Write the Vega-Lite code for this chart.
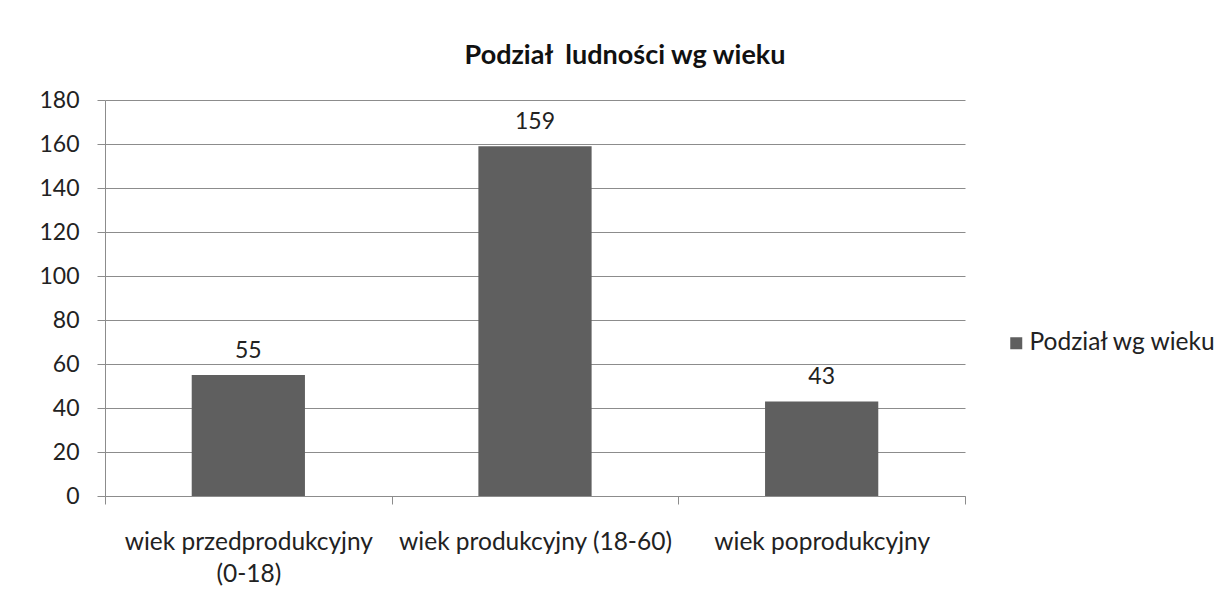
{
  "$schema": "https://vega.github.io/schema/vega-lite/v6.json",
  "width": 860,
  "height": 396,
  "autosize": {"type": "none"},
  "padding": {"left": 105, "top": 100, "right": 264, "bottom": 112},
  "background": "white",
  "title": {
    "text": "Podział\u00a0 ludności wg wieku",
    "font": "Lato",
    "fontSize": 27,
    "fontWeight": "bold",
    "color": "#111111",
    "anchor": "middle",
    "dx": 90,
    "baseline": "alphabetic",
    "offset": -2
  },
  "data": {
    "values": [
      {"kategoria": "wiek przedprodukcyjny (0-18)", "liczba": 55},
      {"kategoria": "wiek produkcyjny (18-60)", "liczba": 159},
      {"kategoria": "wiek poprodukcyjny", "liczba": 43}
    ]
  },
  "encoding": {
    "x": {
      "field": "kategoria",
      "type": "nominal",
      "sort": null,
      "scale": {"paddingInner": 0, "paddingOuter": 0},
      "axis": {
        "title": null,
        "labelAngle": 0,
        "labelFont": "Lato",
        "labelFontSize": 24.5,
        "labelColor": "#222222",
        "labelPadding": 26,
        "labelLineHeight": 32,
        "labelLimit": 0,
        "labelExpr": "datum.value == 'wiek przedprodukcyjny (0-18)' ? ['wiek przedprodukcyjny', '(0-18)'] : datum.value",
        "tickBand": "extent",
        "tickSize": 8,
        "tickColor": "#8c8c8c",
        "domainColor": "#8c8c8c",
        "grid": false
      }
    },
    "y": {
      "field": "liczba",
      "type": "quantitative",
      "scale": {"domain": [0, 180], "nice": false},
      "axis": {
        "title": null,
        "values": [0, 20, 40, 60, 80, 100, 120, 140, 160, 180],
        "labelFont": "Lato",
        "labelFontSize": 23,
        "labelColor": "#222222",
        "labelPadding": 18,
        "tickSize": 8,
        "tickColor": "#8c8c8c",
        "domainColor": "#8c8c8c",
        "grid": true,
        "gridColor": "#8c8c8c",
        "gridOpacity": 1
      }
    }
  },
  "layer": [
    {
      "mark": {"type": "bar", "width": {"band": 0.395}},
      "encoding": {
        "color": {
          "datum": "Podział wg wieku",
          "type": "nominal",
          "scale": {"range": ["#5f5f5f"]},
          "legend": {
            "title": null,
            "orient": "none",
            "legendX": 899,
            "legendY": 231,
            "padding": 0,
            "symbolType": "square",
            "symbolSize": 144,
            "symbolStrokeWidth": 0,
            "labelFont": "Lato",
            "labelFontSize": 24.5,
            "labelColor": "#222222",
            "labelOffset": 1,
            "labelLimit": 0
          }
        }
      }
    },
    {
      "mark": {
        "type": "text",
        "baseline": "alphabetic",
        "align": "center",
        "dy": -17,
        "font": "Lato",
        "fontSize": 23,
        "color": "#222222"
      },
      "encoding": {
        "text": {"field": "liczba", "type": "quantitative"}
      }
    }
  ],
  "config": {
    "view": {"stroke": null}
  }
}
